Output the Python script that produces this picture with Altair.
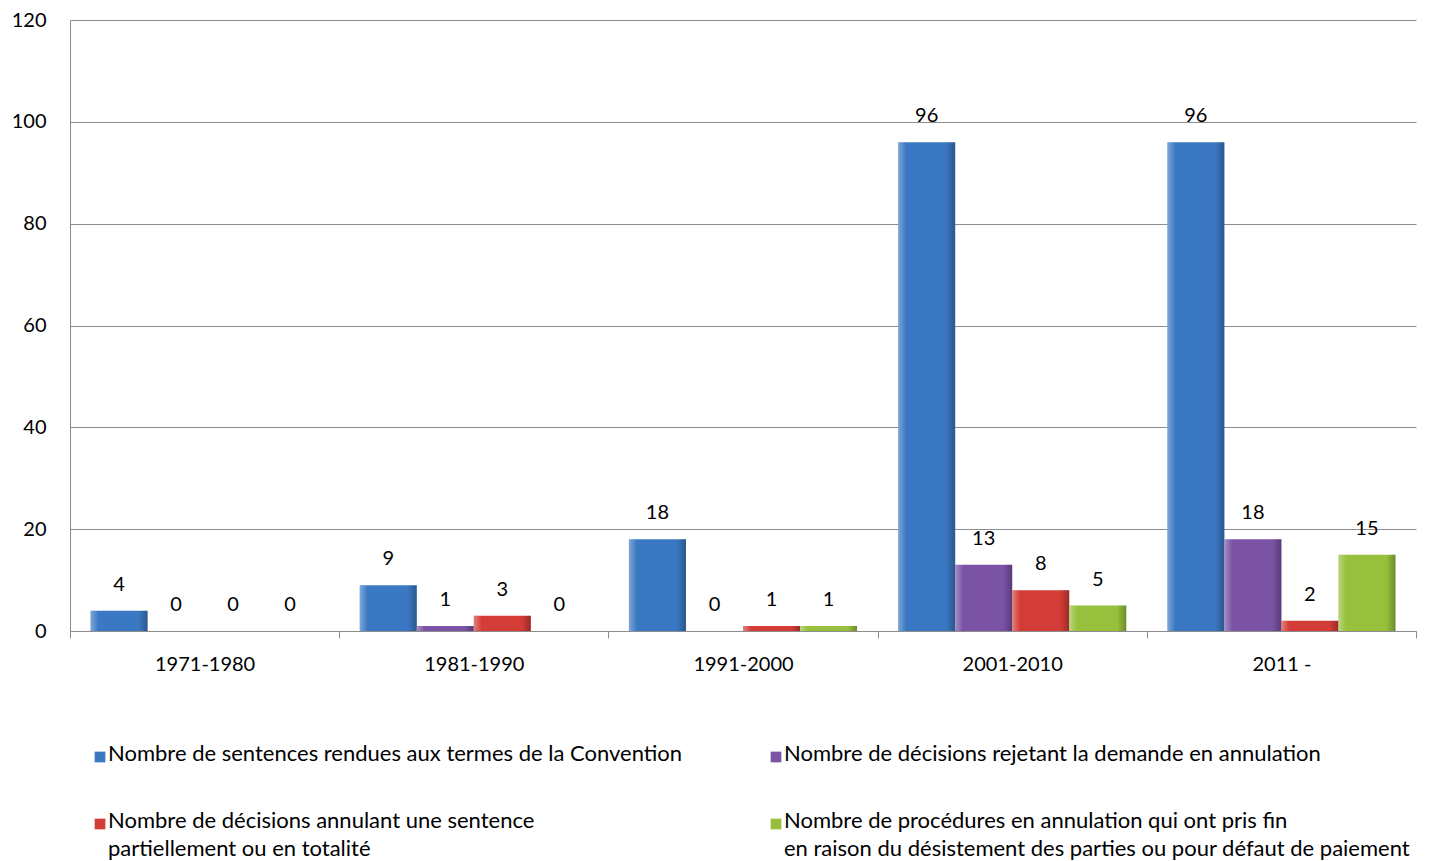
import altair as alt
import pandas as pd

# Decades on the x axis
categories = ["1971-1980", "1981-1990", "1991-2000", "2001-2010", "2011 -"]

# Series (legend text; "\n" marks a line break)
series = [
    "Nombre de sentences rendues aux termes de la Convention",
    "Nombre de décisions rejetant la demande en annulation",
    "Nombre de décisions annulant une sentence\npartiellement ou en totalité",
    "Nombre de procédures en annulation qui ont pris fin\nen raison du désistement des parties ou pour défaut de paiement",
]

sentences = [4, 9, 18, 96, 96]
rejets = [0, 1, 0, 13, 18]
annulations = [0, 3, 1, 8, 2]
desistements = [0, 0, 1, 5, 15]

colors = ["#3b78c3", "#7a53a5", "#d43c37", "#97c03d"]
y_ticks = [0, 20, 40, 60, 80, 100, 120]

FONT = "Lato"
GRAY = "#8c8c8c"

rows = []
for name, vals in zip(series, [sentences, rejets, annulations, desistements]):
    for cat, v in zip(categories, vals):
        rows.append({"cat": cat, "series": name, "value": v})
df = pd.DataFrame(rows)

color_scale = alt.Scale(domain=series, range=colors)

base = alt.Chart(df).encode(
    x=alt.X(
        "cat:N",
        sort=categories,
        scale=alt.Scale(paddingInner=0, paddingOuter=0),
        axis=alt.Axis(
            title=None, labelAngle=0, tickBand="extent", tickSize=7,
            tickColor=GRAY, domainColor=GRAY, labelPadding=16,
        ),
    ),
    xOffset=alt.XOffset(
        "series:N", sort=series, scale=alt.Scale(paddingInner=0, paddingOuter=0.36)
    ),
    y=alt.Y(
        "value:Q",
        scale=alt.Scale(domain=[0, 120], nice=False),
        axis=alt.Axis(
            title=None, values=y_ticks, ticks=False, grid=True, gridColor=GRAY,
            domainColor=GRAY, labelPadding=24,
        ),
    ),
)

bars = base.mark_bar().encode(color=alt.Color("series:N", scale=color_scale, legend=None))

# Bevel-like shading across each bar
shine = base.mark_bar(
    color=alt.Gradient(
        gradient="linear",
        x1=0, x2=1, y1=0, y2=0,
        stops=[
            alt.GradientStop(color="rgba(255,255,255,0.35)", offset=0),
            alt.GradientStop(color="rgba(255,255,255,0.0)", offset=0.14),
            alt.GradientStop(color="rgba(0,0,0,0.0)", offset=0.84),
            alt.GradientStop(color="rgba(0,0,0,0.28)", offset=1),
        ],
    )
)

labels = base.mark_text(dy=-26, fontSize=20, font=FONT, color="black").encode(
    text="value:Q"
)

main = alt.layer(bars, shine, labels).properties(width=1346, height=611)

# Legend drawn as a two-column grid below the plot
leg_df = pd.DataFrame({"series": series, "i": list(range(len(series)))})
leg_base = alt.Chart(leg_df).transform_calculate(
    col="datum.i % 2", row="floor(datum.i / 2)"
).encode(
    x=alt.X("col:Q", scale=alt.Scale(domain=[0, 1], range=[30, 706]), axis=None),
    y=alt.Y("row:Q", scale=alt.Scale(domain=[0, 1], range=[83, 150]), axis=None),
)
leg_sym = leg_base.mark_square(size=115, opacity=1).encode(
    color=alt.Color("series:N", scale=color_scale, legend=None)
)
leg_txt = leg_base.mark_text(
    align="left", baseline="top", dx=8, dy=-13, lineBreak="\n", lineHeight=28,
    fontSize=22, font=FONT, color="black",
).encode(text="series:N")
legend = alt.layer(leg_sym, leg_txt).properties(width=1346, height=180)

chart = (
    alt.vconcat(main, legend, spacing=0)
    .properties(
        padding={"left": 11, "top": 10, "right": 5, "bottom": 0},
        background="white",
    )
    .configure_view(stroke=None)
    .configure_axis(labelFont=FONT, labelFontSize=20, labelColor="black")
)

chart.save("out.html", embed_options={"renderer": "svg", "actions": False})
